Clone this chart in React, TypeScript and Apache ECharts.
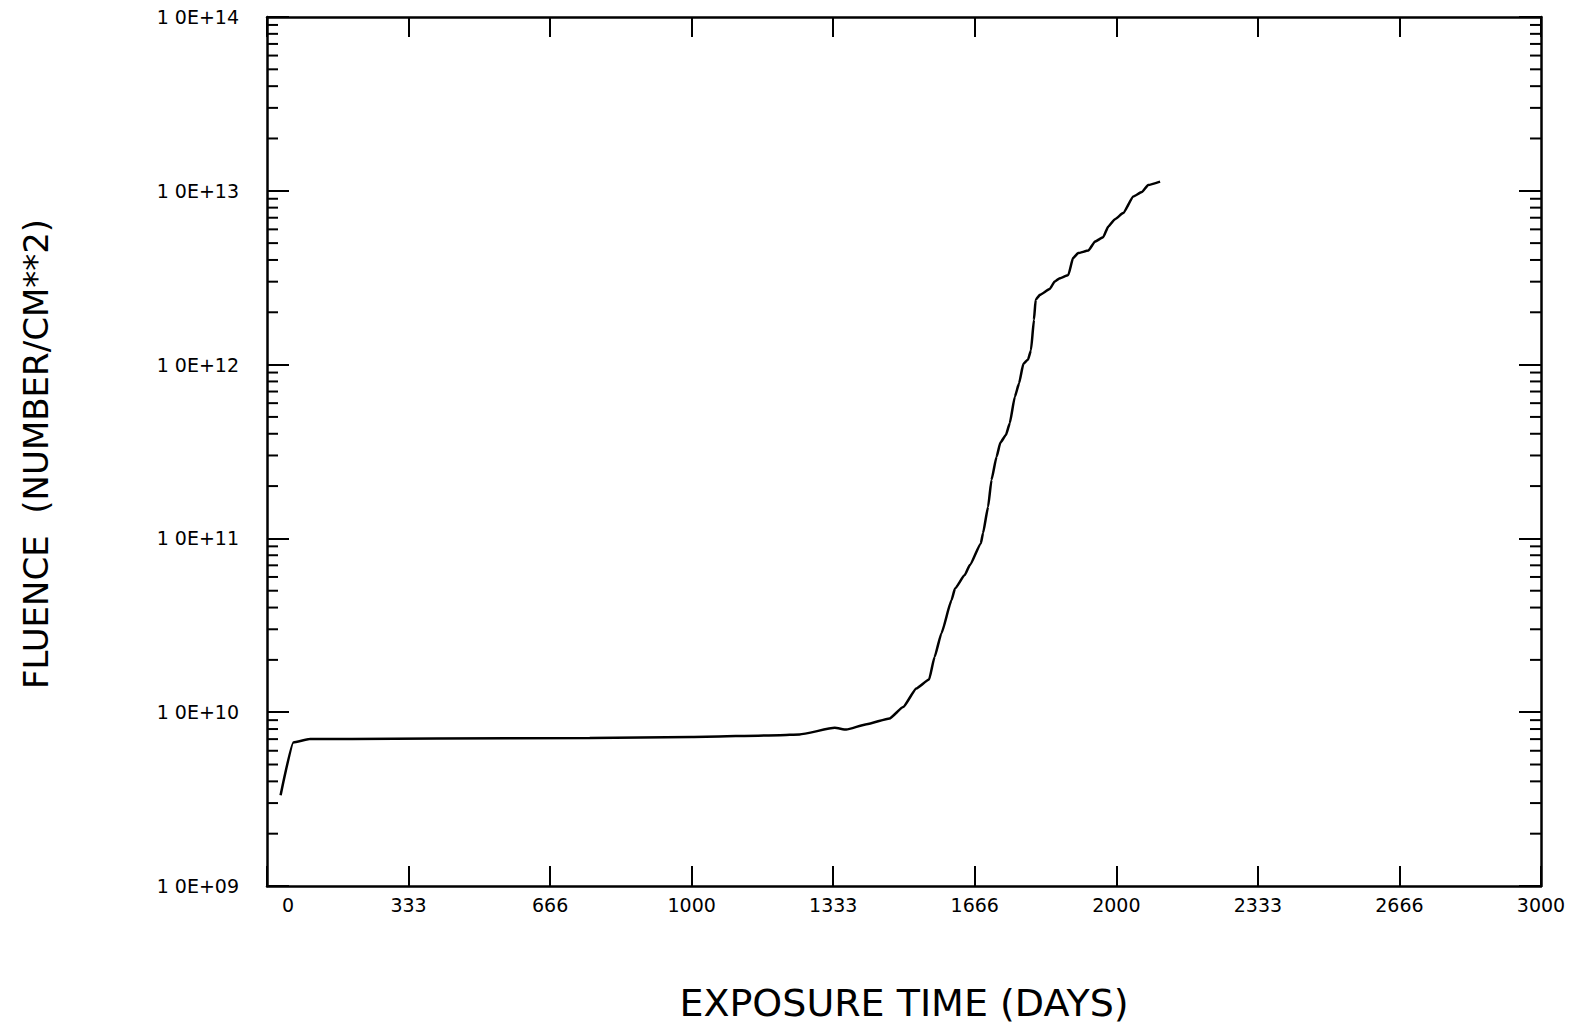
import React, { useEffect, useRef } from 'react';
import * as echarts from 'echarts';

// Exposure time (days) and fluence (number/cm^2)
const exposureDays = [
  32, 62, 100, 200, 400, 760, 1000, 1208, 1254, 1337, 1364, 1412, 1466, 1498, 1529, 1559,
  1572, 1588, 1612, 1620, 1643, 1655, 1681, 1686, 1698, 1706, 1718, 1727, 1740, 1749,
  1761, 1771, 1781, 1792, 1799, 1806, 1810, 1820, 1843, 1855, 1867, 1887, 1898, 1910,
  1934, 1950, 1969, 1981, 1997, 2016, 2040, 2060, 2075, 2103,
];
const fluence = [
  3.33e9, 6.7e9, 7.0e9, 7.02e9, 7.05e9, 7.1e9, 7.2e9, 7.38e9, 7.45e9, 8.13e9, 7.94e9, 8.53e9,
  9.21e9, 1.07e10, 1.37e10, 1.54e10, 2.08e10, 2.84e10, 4.42e10, 5.15e10, 6.15e10, 7.02e10,
  9.36e10, 1.07e11, 1.52e11, 2.17e11, 2.95e11, 3.56e11, 3.94e11, 4.6e11, 6.54e11, 7.81e11,
  1.01e12, 1.07e12, 1.21e12, 1.81e12, 2.36e12, 2.52e12, 2.72e12, 3.01e12, 3.14e12, 3.28e12,
  4.1e12, 4.38e12, 4.53e12, 5.11e12, 5.41e12, 6.23e12, 6.87e12, 7.44e12, 9.27e12, 9.83e12,
  1.08e13, 1.13e13,
];

const xTickLabels = ['0', '333', '666', '1000', '1333', '1666', '2000', '2333', '2666', '3000'];
const yTickLabels = ['1 0E+09', '1 0E+10', '1 0E+11', '1 0E+12', '1 0E+13', '1 0E+14'];
const yDecades = [1e9, 1e10, 1e11, 1e12, 1e13];
const minorMantissas = [2, 3, 4, 5, 6, 7, 8, 9];

const xTitle = 'EXPOSURE TIME (DAYS)';
const yTitle = 'FLUENCE  (NUMBER/CM**2)';

const X_MIN = 0;
const X_MAX = 3000;
const X_STEP = 3000 / 9;
const Y_MIN = 1e9;
const Y_MAX = 1e14;

const FONT = '"DejaVu Sans", sans-serif';

export default function App() {
  const ref = useRef<HTMLDivElement>(null);

  useEffect(() => {
    if (!ref.current) return;
    const chart = echarts.init(ref.current, null, { renderer: 'svg' });

    const minorTicks: number[][] = [];
    yDecades.forEach((d) => minorMantissas.forEach((m) => minorTicks.push([X_MIN, m * d])));

    const gridLeft = 267;
    const gridTop = 17;
    const gridWidth = 1274;
    const gridHeight = 869;

    const axisLineStyle = { color: '#000', width: 2.5 };

    const xFormatter = (v: number) => {
      const idx = Math.round(v / X_STEP);
      const s = xTickLabels[idx] ?? '';
      return idx === 0 ? '{z|' + s + '}' : s;
    };
    const yFormatter = (v: number) => yTickLabels[Math.round(Math.log10(v)) - 9] ?? '';

    const option: any = {
      animation: false,
      backgroundColor: '#fff',
      grid: { left: gridLeft, top: gridTop, width: gridWidth, height: gridHeight, containLabel: false },
      xAxis: [
        {
          type: 'value',
          position: 'bottom',
          min: X_MIN,
          max: X_MAX,
          interval: X_STEP,
          axisLine: { show: true, onZero: false, lineStyle: axisLineStyle },
          axisTick: { show: true, inside: true, length: 20, lineStyle: { color: '#000', width: 2 } },
          axisLabel: {
            show: true,
            formatter: xFormatter,
            color: '#000',
            fontFamily: FONT,
            fontSize: 19,
            margin: 9,
            showMinLabel: true,
            showMaxLabel: true,
            rich: { z: { padding: [0, 0, 0, 42], color: '#000', fontFamily: FONT, fontSize: 19 } },
          },
          splitLine: { show: false },
        },
        {
          type: 'value',
          position: 'top',
          min: X_MIN,
          max: X_MAX,
          interval: X_STEP,
          axisLine: { show: true, onZero: false, lineStyle: axisLineStyle },
          axisTick: { show: true, inside: true, length: 20, lineStyle: { color: '#000', width: 2 } },
          axisLabel: { show: false },
          splitLine: { show: false },
        },
      ],
      yAxis: [
        {
          type: 'log',
          logBase: 10,
          position: 'left',
          min: Y_MIN,
          max: Y_MAX,
          splitNumber: 5,
          axisLine: { show: true, onZero: false, lineStyle: axisLineStyle },
          axisTick: { show: true, inside: true, length: 22, lineStyle: { color: '#000', width: 2 } },
          axisLabel: {
            show: true,
            formatter: yFormatter,
            color: '#000',
            fontFamily: FONT,
            fontSize: 19,
            margin: 28,
            showMinLabel: true,
            showMaxLabel: true,
          },
          splitLine: { show: false },
        },
        {
          type: 'log',
          logBase: 10,
          position: 'right',
          min: Y_MIN,
          max: Y_MAX,
          splitNumber: 5,
          axisLine: { show: true, onZero: false, lineStyle: axisLineStyle },
          axisTick: { show: true, inside: true, length: 22, lineStyle: { color: '#000', width: 2 } },
          axisLabel: { show: false },
          splitLine: { show: false },
        },
      ],
      series: [
        {
          type: 'line',
          xAxisIndex: 0,
          yAxisIndex: 0,
          data: exposureDays.map((d, i) => [d, fluence[i]]),
          showSymbol: false,
          symbol: 'none',
          smooth: 0.15,
          smoothMonotone: 'x',
          lineStyle: { color: '#000', width: 2.5 },
          z: 5,
        },
        {
          type: 'custom',
          xAxisIndex: 0,
          yAxisIndex: 0,
          silent: true,
          clip: false,
          data: minorTicks,
          encode: { x: 0, y: 1 },
          renderItem: (params: any, api: any) => {
            const v = api.value(1);
            const pl = api.coord([X_MIN, v]);
            const pr = api.coord([X_MAX, v]);
            const st = { stroke: '#000', lineWidth: 2 };
            return {
              type: 'group',
              children: [
                { type: 'line', shape: { x1: pl[0], y1: pl[1], x2: pl[0] + 11, y2: pl[1] }, style: st },
                { type: 'line', shape: { x1: pr[0] - 11, y1: pr[1], x2: pr[0], y2: pr[1] }, style: st },
              ],
            };
          },
          z: 4,
        },
      ],
      graphic: [
        {
          type: 'text',
          x: 904,
          y: 1003,
          style: {
            text: xTitle,
            fill: '#000',
            font: '38px ' + FONT,
            align: 'center',
            verticalAlign: 'middle',
          },
        },
        {
          type: 'text',
          x: 36,
          y: 454,
          rotation: Math.PI / 2,
          style: {
            text: yTitle,
            fill: '#000',
            font: '34px ' + FONT,
            align: 'center',
            verticalAlign: 'middle',
          },
        },
      ],
    };

    chart.setOption(option);
    return () => {
      chart.dispose();
    };
  }, []);

  return (
    <div
      ref={ref}
      style={{ position: 'fixed', left: 0, top: 0, width: 1580, height: 1027, background: '#fff' }}
    />
  );
}
